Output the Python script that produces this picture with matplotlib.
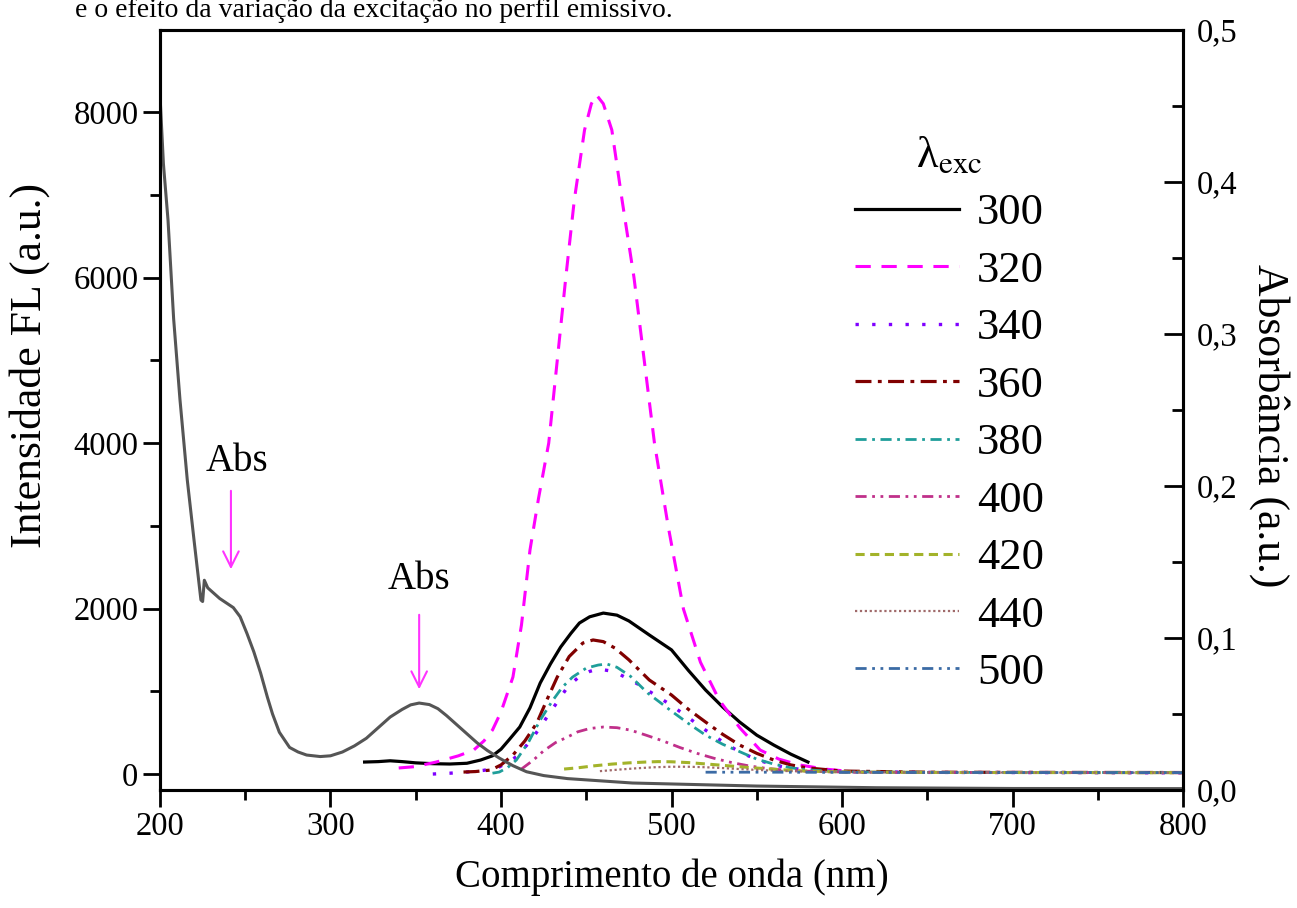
import matplotlib
matplotlib.use("Agg")
import matplotlib.pyplot as plt
from matplotlib.ticker import MultipleLocator, FuncFormatter

plt.rcParams['font.family'] = ['Liberation Serif', 'DejaVu Serif']
plt.rcParams['mathtext.fontset'] = 'stix'

## dados: espectros de emissão (intensidade FL) por comprimento de onda de excitação

wl_300 = [320, 328, 335, 342, 350, 360, 370, 380, 388, 395, 400, 405, 411, 417, 423, 429, 435, 441, 446, 452,
          460, 468, 475, 487, 500, 510, 520, 530, 540, 550, 560, 570, 580]
fl_300 = [145, 150, 160, 150, 135, 125, 121, 130, 169, 220, 300, 420, 568, 800, 1100, 1330, 1535, 1700, 1825, 1900,
          1945, 1920, 1850, 1680, 1500, 1250, 1015, 810, 628, 470, 350, 240, 145]

wl_320 = [340, 350, 362, 375, 384, 390, 395, 400, 407, 412, 417, 422, 428, 433, 438, 443, 449, 453, 456, 460,
          465, 471, 478, 484, 490, 498, 507, 517, 528, 540, 552, 563, 575, 590, 605, 620]
fl_320 = [73, 90, 145, 220, 290, 400, 532, 750, 1172, 1800, 2707, 3330, 4000, 5000, 6000, 6937, 7783, 8100, 8206, 8100,
          7783, 6937, 6000, 5000, 4000, 3000, 1994, 1350, 894, 560, 290, 180, 110, 60, 30, 15]

wl_340 = [360, 370, 380, 390, 399, 410, 419, 430, 439, 446, 452, 457, 463, 470, 480, 490, 500, 510, 520, 530,
          540, 550, 560, 570, 580, 600, 650, 700, 800]
fl_340 = [0, 10, 24, 45, 85, 220, 447, 780, 1050, 1180, 1240, 1270, 1250, 1200, 1090, 960, 830, 680, 530, 390,
          266, 175, 109, 70, 48, 30, 20, 18, 15]

wl_360 = [378, 385, 394, 400, 407, 414, 421, 427, 433, 440, 448, 454, 460, 467, 475, 487, 500, 510, 520, 530,
          540, 550, 560, 570, 580, 600, 650, 700, 800]
fl_360 = [24, 30, 48, 110, 230, 400, 616, 900, 1172, 1420, 1583, 1620, 1600, 1520, 1380, 1136, 955, 780, 628, 480,
          350, 250, 169, 110, 73, 36, 22, 20, 18]

wl_380 = [395, 399, 404, 409, 416, 423, 430, 436, 442, 450, 457, 462, 468, 476, 486, 493, 500, 510, 520, 530,
          540, 550, 560, 570, 580, 600, 650, 800]
fl_380 = [10, 24, 80, 169, 380, 652, 880, 1050, 1172, 1280, 1317, 1330, 1290, 1180, 979, 870, 760, 610, 470, 360,
          270, 180, 120, 75, 50, 26, 20, 18]

wl_400 = [412, 419, 425, 432, 439, 445, 452, 460, 468, 476, 485, 495, 505, 515, 525, 535, 545, 555, 565, 575,
          590, 610, 650, 700, 800]
fl_400 = [60, 169, 280, 380, 447, 510, 550, 568, 560, 530, 470, 400, 320, 250, 190, 140, 100, 70, 50, 38,
          28, 22, 20, 18, 16]

wl_420 = [437, 445, 455, 465, 475, 485, 492, 500, 510, 520, 530, 540, 550, 560, 570, 580, 600, 650, 700, 800]
fl_420 = [60, 75, 100, 120, 135, 145, 150, 148, 138, 122, 105, 88, 72, 58, 45, 35, 25, 20, 18, 16]

wl_440 = [458, 470, 480, 490, 500, 510, 520, 530, 540, 550, 560, 580, 600, 650, 700, 800]
fl_440 = [35, 55, 70, 82, 88, 88, 82, 72, 60, 50, 40, 30, 24, 20, 18, 16]

wl_500 = [520, 540, 560, 580, 600, 650, 700, 750, 800]
fl_500 = [22, 22, 22, 21, 20, 19, 18, 18, 17]

## absorbância (eixo da direita)
wl_abs = [200, 202, 204.7, 208, 211.7, 216, 220, 224, 225, 226, 228, 235, 243, 247, 251, 255, 259, 263, 266, 270,
          276, 281, 286, 294, 300, 307, 314, 321, 328, 335, 342, 347, 352, 358, 363, 368, 374, 380, 386, 392,
          399, 407, 415, 425, 439, 477, 550, 620, 700, 800]
abs_val = [0.457, 0.412, 0.375, 0.31, 0.257, 0.204, 0.164, 0.125, 0.124, 0.138, 0.133, 0.126, 0.120, 0.114, 0.103,
           0.091, 0.077, 0.061, 0.050, 0.038, 0.028, 0.025, 0.023, 0.022, 0.0225, 0.025, 0.029, 0.034, 0.041, 0.048,
           0.053, 0.056, 0.0572, 0.0562, 0.0535, 0.049, 0.043, 0.037, 0.031, 0.026, 0.021, 0.016, 0.012, 0.0095,
           0.0075, 0.0046, 0.0026, 0.0015, 0.001, 0.0009]

series = [
    ("300", wl_300, fl_300, "black", "-", 2.3),
    ("320", wl_320, fl_320, "#ff00ff", (0, (5, 3.5)), 2.2),
    ("340", wl_340, fl_340, "#7f00ff", (0, (1, 4)), 2.4),
    ("360", wl_360, fl_360, "#800000", (0, (5, 2, 1.2, 2)), 2.3),
    ("380", wl_380, fl_380, "#1f9e9a", (0, (4, 2, 1, 2)), 2.0),
    ("400", wl_400, fl_400, "#c0308a", (0, (4, 2, 1, 2, 1, 2)), 2.0),
    ("420", wl_420, fl_420, "#a3b32a", (0, (3, 1.8)), 2.2),
    ("440", wl_440, fl_440, "#a06a6a", (0, (1, 1.2)), 1.6),
    ("500", wl_500, fl_500, "#3b6ba5", (0, (4, 2, 1, 2, 1, 2)), 2.0),
]

fig = plt.figure(figsize=(12.97, 9.08), dpi=100)
ax = fig.add_axes([160/1297, 1 - 790/908, (1183-160)/1297, (790-30)/908])
ax2 = ax.twinx()

for lab, x, y, c, ls, lw in series:
    ax.plot(x, y, color=c, linestyle=ls, linewidth=lw, label=lab)

ax2.plot(wl_abs, abs_val, color="#555555", linewidth=2.2)

ax.set_xlim(200, 800)
ax.set_ylim(-193, 8991)
ax2.set_ylim(0, 0.5)

ax.xaxis.set_major_locator(MultipleLocator(100))
ax.xaxis.set_minor_locator(MultipleLocator(50))
ax.yaxis.set_major_locator(MultipleLocator(2000))
ax.yaxis.set_minor_locator(MultipleLocator(1000))
ax2.yaxis.set_major_locator(MultipleLocator(0.1))
ax2.yaxis.set_minor_locator(MultipleLocator(0.05))
ax2.yaxis.set_major_formatter(FuncFormatter(lambda v, p: ("%.1f" % v).replace(".", ",")))

ax.tick_params(axis="both", which="major", direction="out", length=12, width=2, labelsize=23.5)
ax.tick_params(axis="both", which="minor", direction="out", length=7, width=2)
ax.tick_params(top=False, right=False, which="both")
ax2.tick_params(axis="y", which="major", direction="in", length=14, width=2, labelsize=23.5, pad=10)
ax2.tick_params(axis="y", which="minor", direction="in", length=8, width=2)

for a in (ax, ax2):
    for s in a.spines.values():
        s.set_linewidth(2.2)

ax.set_xlabel("Comprimento de onda (nm)", fontsize=28, labelpad=12)
ax.set_ylabel("Intensidade FL (a.u.)", fontsize=31.5, va="center")
ax.yaxis.set_label_coords(-0.128, 0.558)
ax2.set_ylabel("Absorbância (a.u.)", fontsize=31.5, rotation=270, va="center")
ax2.yaxis.set_label_coords(1.085, 0.479)

## setas "Abs"
ax.annotate("", xy=(241.6, 2441), xytext=(241.6, 3456),
            arrowprops=dict(arrowstyle="->", color="#ff33ff", lw=1.5, mutation_scale=28))
ax.text(245, 3780, "Abs", fontsize=28, ha="center", va="center")
ax.annotate("", xy=(352, 991), xytext=(352, 1958),
            arrowprops=dict(arrowstyle="->", color="#ff33ff", lw=1.5, mutation_scale=28))
ax.text(352, 2345, "Abs", fontsize=28, ha="center", va="center")

leg = ax.legend(loc="upper left", bbox_to_anchor=(855/1297, 1 - 135/908), bbox_transform=fig.transFigure,
                frameon=False, fontsize=32, handlelength=2.35, handletextpad=0.4, labelspacing=0.39,
                borderpad=0, borderaxespad=0, title=r"λ$_{\mathrm{exc}}$", title_fontsize=32)

## linha de texto do documento, no topo
fig.text(75/1297, 1 - 17/908, "e o efeito da variação da excitação no perfil emissivo.", fontsize=20,
         ha="left", va="baseline")

fig.savefig("out.png", dpi=100)
